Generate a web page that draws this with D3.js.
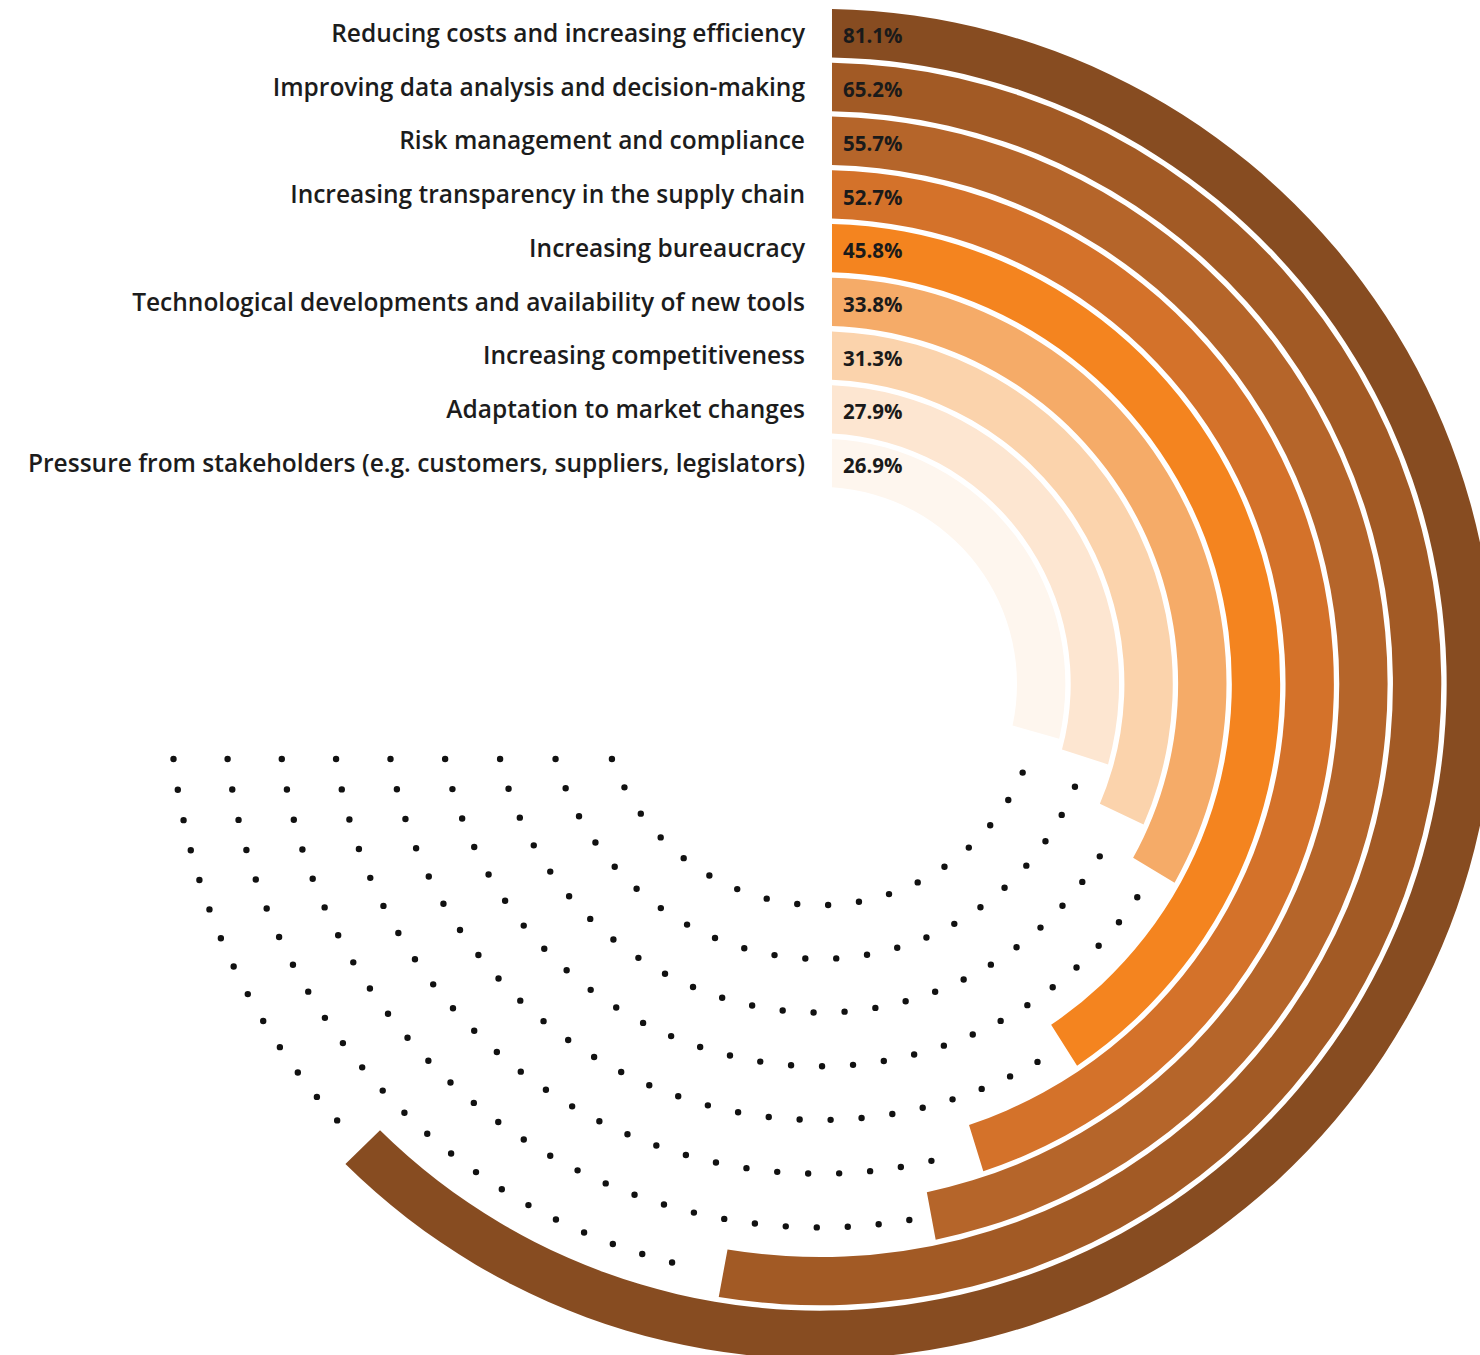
<!DOCTYPE html>
<html>
<head>
<meta charset="utf-8">
<script src="https://cdn.jsdelivr.net/npm/d3@7"></script>
<style>
  html, body { margin: 0; padding: 0; background: #ffffff; }
  svg { display: block; }
</style>
</head>
<body>
<svg id="chart" width="1480" height="1355"></svg>
<script>
// Drivers, outermost ring first
const categories = [
  "Reducing costs and increasing efficiency",
  "Improving data analysis and decision-making",
  "Risk management and compliance",
  "Increasing transparency in the supply chain",
  "Increasing bureaucracy",
  "Technological developments and availability of new tools",
  "Increasing competitiveness",
  "Adaptation to market changes",
  "Pressure from stakeholders (e.g. customers, suppliers, legislators)"
];
// Share of respondents (%)
const shares = [81.1, 65.2, 55.7, 52.7, 45.8, 33.8, 31.3, 27.9, 26.9];
// Ring fills, outermost to innermost
const ringColors = ["#874c21", "#a25a25", "#b5652a", "#d4722a", "#f4841f", "#f5ab68", "#fbd3ac", "#fde6d1", "#fef6ee"];

const W = 1480, H = 1355;
const cx = 820, cy = 684;
const rInner = 197, rOuter = 675;
const deg = Math.PI / 180;

const data = categories.map((c, i) => ({ category: c, value: shares[i], color: ringColors[i] }));

const svg = d3.select("#chart");
const g = svg.append("g").attr("transform", `translate(${cx},${cy})`);

// one concentric band per category
const ring = d3.scaleBand()
  .domain(categories)
  .range([rOuter, rInner])
  .paddingInner(0.1);

// angular sweep (clockwise from 12 o'clock)
const angle = d3.scaleLinear()
  .domain([20, 90])
  .range([90.4 * deg, 245.4 * deg]);

const arc = d3.arc()
  .innerRadius(d => ring(d.category))
  .outerRadius(d => ring(d.category) + ring.bandwidth())
  .startAngle(0)
  .endAngle(d => angle(d.value))
  .padAngle(0.1)
  .padRadius(240);

// dotted remainder of each track, running from the left side back to the bar end
const tracks = g.append("g").attr("class", "tracks");
data.forEach(d => {
  const r = ring(d.category) + ring.bandwidth() / 2;
  const aLeft = 1.5 * Math.PI - Math.asin(75 / r);
  const aBar = angle(d.value) + 10 / r;
  const p = d3.path();
  p.arc(0, 0, r, aLeft - Math.PI / 2, aBar - Math.PI / 2, true);
  tracks.append("path")
    .attr("d", p.toString())
    .attr("fill", "none")
    .attr("stroke", "#111111")
    .attr("stroke-width", 6.4)
    .attr("stroke-linecap", "round")
    .attr("stroke-dasharray", "0 31");
});

g.append("g").attr("class", "bars")
  .selectAll("path")
  .data(data)
  .join("path")
  .attr("d", arc)
  .attr("fill", d => d.color);

const fmt = d => d3.format(".1f")(d) + "%";

// value labels at the start of each bar
g.append("g").attr("class", "values")
  .selectAll("text")
  .data(data)
  .join("text")
  .attr("x", 23)
  .attr("y", d => -(ring(d.category) + ring.bandwidth() / 2))
  .attr("dy", "0.5em")
  .attr("font-family", "'Open Sans', 'Noto Sans', sans-serif")
  .attr("font-weight", 700)
  .attr("font-size", "20.5px")
  .attr("fill", "#1a1a1a")
  .text(d => fmt(d.value));

// category labels to the left of the rings
g.append("g").attr("class", "labels")
  .selectAll("text")
  .data(data)
  .join("text")
  .attr("x", 805 - cx)
  .attr("y", d => -(ring(d.category) + ring.bandwidth() / 2))
  .attr("dy", "0.36em")
  .attr("text-anchor", "end")
  .attr("font-family", "'Open Sans', 'Noto Sans', sans-serif")
  .attr("font-weight", 600)
  .attr("font-size", "24.5px")
  .attr("fill", "#1c1c1c")
  .text(d => d.category);
</script>
</body>
</html>
